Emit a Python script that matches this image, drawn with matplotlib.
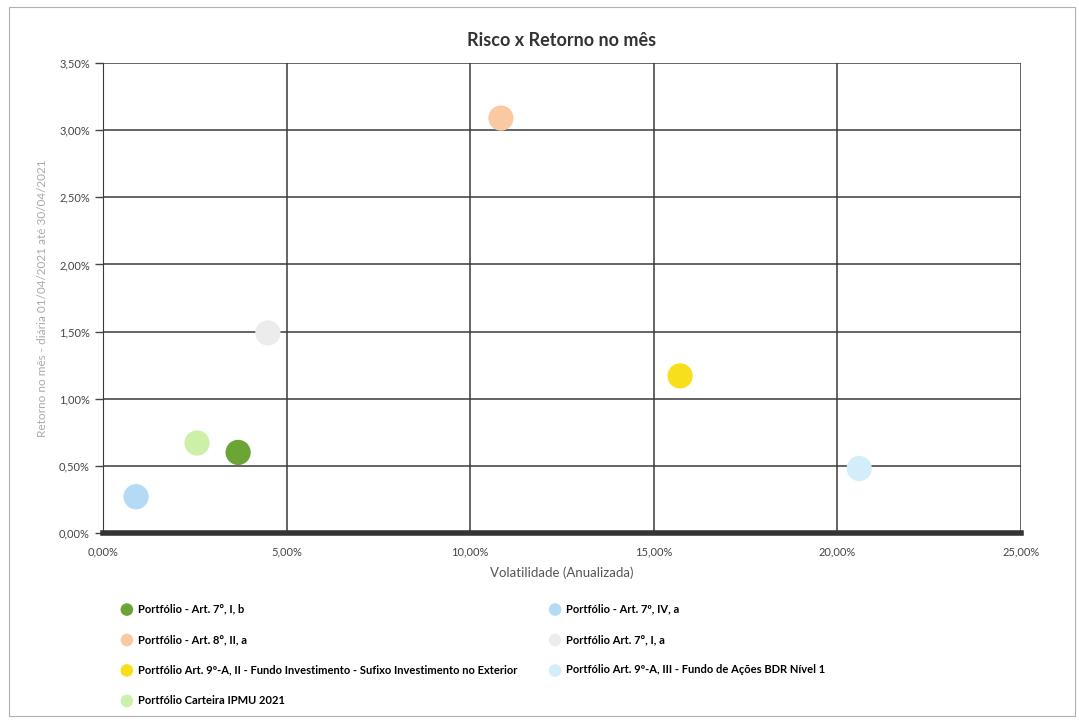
import matplotlib
matplotlib.use("Agg")
import matplotlib.pyplot as plt
from matplotlib.patches import Rectangle
from matplotlib.ticker import FuncFormatter, MultipleLocator

# data (volatility %, monthly return %)
labels = [
    "Portfólio - Art. 7°, I, b",
    "Portfólio - Art. 8°, II, a",
    "Portfólio Art. 9º-A, II - Fundo Investimento - Sufixo Investimento no Exterior",
    "Portfólio Carteira IPMU 2021",
    "Portfólio - Art. 7º, IV, a",
    "Portfólio Art. 7°, I, a",
    "Portfólio Art. 9º-A, III - Fundo de Ações BDR Nível 1",
]
volatility = [3.68, 10.84, 15.72, 2.56, 0.90, 4.49, 20.60]
retorno = [0.60, 3.09, 1.17, 0.67, 0.27, 1.49, 0.48]
colors = ["#6aa536", "#f9c9a2", "#f8df1c", "#cdf0a8", "#b3dbf6", "#ececec", "#d3edfb"]

plt.rcParams["font.family"] = ["Lato", "DejaVu Sans"]

fig = plt.figure(figsize=(10.79, 7.22), dpi=100)
fig.patches.append(Rectangle((0.008, 0.008), 0.988, 0.982, transform=fig.transFigure,
                             fill=False, ec="#b0b0b0", lw=0.8))
ax = fig.add_axes([0.0955, 0.2618, 0.8505, 0.6509])

for v, r, c, lab in zip(volatility, retorno, colors, labels):
    ax.scatter(v, r, s=330, color=c, label=lab, zorder=3, edgecolors="none")

ax.set_xlim(0, 25)
ax.set_ylim(0, 3.5)
ax.xaxis.set_major_locator(MultipleLocator(5))
ax.yaxis.set_major_locator(MultipleLocator(0.5))
fmt = FuncFormatter(lambda v, p: f"{v:.2f}%".replace(".", ","))
ax.xaxis.set_major_formatter(fmt)
ax.yaxis.set_major_formatter(fmt)
ax.grid(True, color="#3a3a3a", lw=1.1)
ax.set_axisbelow(True)
for s in ["top", "right"]:
    ax.spines[s].set_visible(False)
ax.spines["left"].set_color("#3a3a3a")
ax.spines["bottom"].set_color("#333333")
ax.spines["bottom"].set_linewidth(4)
ax.tick_params(labelsize=8, colors="#444444", length=6, width=1)
ax.tick_params(axis="x", length=0, pad=10)

ax.set_title("Risco x Retorno no mês", fontsize=13, fontweight="bold", color="#333333", pad=12)
ax.set_xlabel("Volatilidade (Anualizada)", fontsize=9.5, color="#555555", labelpad=6)
ax.set_ylabel("Retorno no mês - diária 01/04/2021 até 30/04/2021", fontsize=8.5,
              color="#aaaaaa", labelpad=8)

fig.legend(loc="upper left", bbox_to_anchor=(0.098, 0.178), ncol=2, frameon=False,
           handletextpad=0.0, columnspacing=2.4, labelspacing=1.75,
           markerscale=0.5, prop={"weight": "bold", "size": 8})

fig.savefig("out.png", dpi=100)
